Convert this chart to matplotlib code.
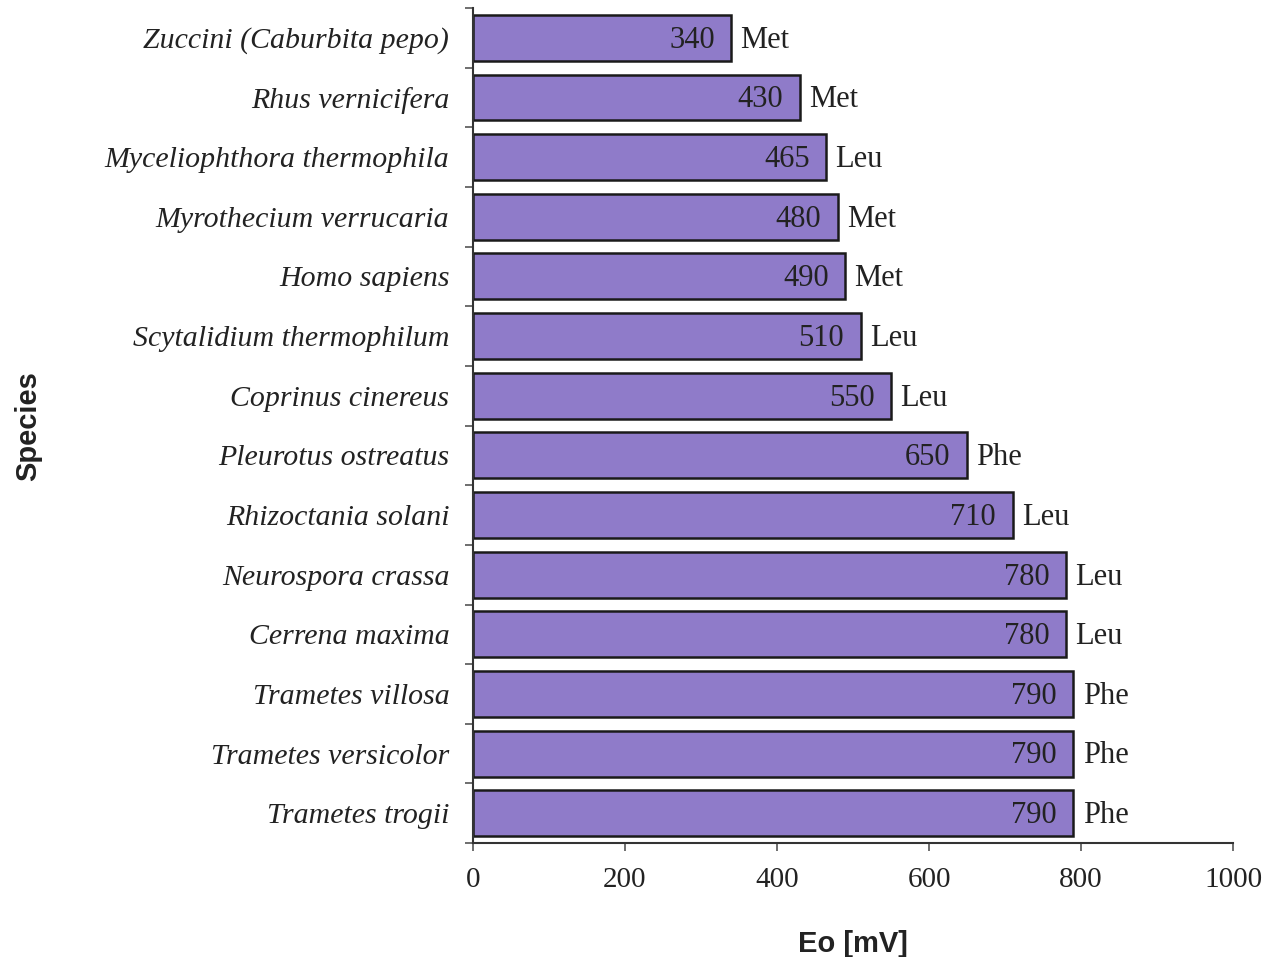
import matplotlib.pyplot as plt
import numpy as np

species = ["Zuccini (Caburbita pepo)", "Rhus vernicifera", "Myceliophthora thermophila",
           "Myrothecium verrucaria", "Homo sapiens", "Scytalidium thermophilum",
           "Coprinus cinereus", "Pleurotus ostreatus", "Rhizoctania solani",
           "Neurospora crassa", "Cerrena maxima", "Trametes villosa",
           "Trametes versicolor", "Trametes trogii"]
eo = [340, 430, 465, 480, 490, 510, 550, 650, 710, 780, 780, 790, 790, 790]
residue = ["Met", "Met", "Leu", "Met", "Met", "Leu", "Leu", "Phe", "Leu",
           "Leu", "Leu", "Phe", "Phe", "Phe"]
xticks = [0, 200, 400, 600, 800, 1000]

serif = "Liberation Serif"
sans = "Liberation Sans"

fig = plt.figure(figsize=(12.66, 9.57), dpi=100)
ax = fig.add_axes([0.3736, 0.119, 0.6004, 0.8726])

y = np.arange(len(species))
ax.barh(y, eo, height=0.77, color="#8f7bc9", edgecolor="#1a1a1a", linewidth=1.8)

for yi, v, r in zip(y, eo, residue):
    ax.text(v - 22, yi - 0.02, str(v), ha="right", va="center_baseline", fontsize=22,
            family=serif, color="#222222")
    ax.text(v + 12, yi - 0.02, r, ha="left", va="center_baseline", fontsize=22,
            family=serif, color="#222222")

ax.set_xlim(0, 1000)
ax.set_ylim(len(species) - 0.5, -0.5)
ax.set_yticks(y)
ax.set_yticklabels(species, family=serif, style="italic", fontsize=21.5, color="#222222")
ax.set_yticks(np.arange(len(species) + 1) - 0.5, minor=True)
ax.tick_params(axis="y", which="major", length=0, pad=17)
ax.tick_params(axis="y", which="minor", length=6, width=1.2, color="#555555")
ax.set_xticks(xticks)
ax.set_xticklabels([str(t) for t in xticks], family=serif, fontsize=21, color="#222222")
ax.tick_params(axis="x", length=6, width=1.2, color="#555555", pad=11)

for s in ["top", "right"]:
    ax.spines[s].set_visible(False)
for s in ["left", "bottom"]:
    ax.spines[s].set_linewidth(1.5)
    ax.spines[s].set_color("#333333")

ax.set_xlabel("Eo [mV]", family=sans, fontweight="bold", fontsize=21,
              color="#222222", labelpad=27)
fig.text(0.022, 0.555, "Species", rotation=90, ha="center", va="center",
         family=sans, fontweight="bold", fontsize=21, color="#222222")

fig.savefig("out.png", dpi=100)
